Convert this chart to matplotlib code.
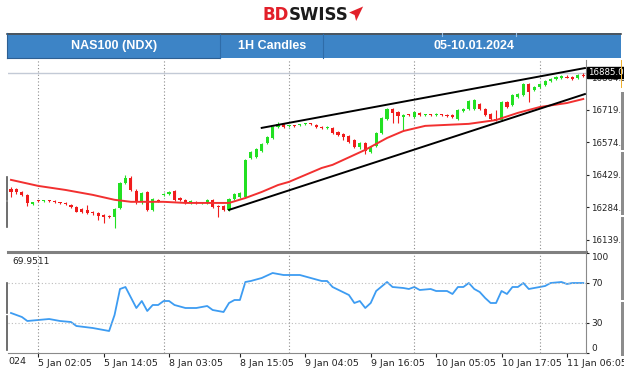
import numpy as np
import matplotlib.pyplot as plt
from matplotlib.patches import Rectangle, Polygon

# NAS100 1H candles, bar index 0..105
opens = [16367, 16367, 16353, 16340, 16300, 16315, 16311, 16315, 16311, 16307,
         16304, 16295, 16286, 16277, 16273, 16264, 16259, 16250, 16246, 16242,
         16282, 16393, 16416, 16358, 16309, 16353, 16273, 16318, 16340, 16344,
         16358, 16326, 16318, 16304, 16309, 16302, 16304, 16318, 16291, 16291,
         16273, 16322, 16331, 16331, 16505, 16509, 16536, 16572, 16594, 16643,
         16657, 16646, 16650, 16650, 16655, 16659, 16652, 16643, 16639, 16639,
         16621, 16612, 16603, 16585, 16554, 16572, 16532, 16558, 16617, 16680,
         16723, 16710, 16688, 16699, 16688, 16706, 16695, 16699, 16697, 16699,
         16697, 16697, 16680, 16715, 16723, 16723, 16746, 16723, 16703, 16680,
         16674, 16755, 16741, 16777, 16786, 16835, 16808, 16822, 16831, 16848,
         16857, 16862, 16868, 16866, 16862, 16875]
highs = [16375, 16372, 16358, 16345, 16310, 16318, 16318, 16318, 16315, 16310,
         16308, 16300, 16290, 16282, 16295, 16268, 16262, 16255, 16250, 16282,
         16398, 16429, 16425, 16365, 16355, 16358, 16326, 16322, 16349, 16358,
         16362, 16330, 16322, 16318, 16313, 16310, 16322, 16322, 16295, 16295,
         16326, 16349, 16353, 16500, 16536, 16550, 16572, 16603, 16648, 16666,
         16661, 16654, 16654, 16657, 16661, 16663, 16657, 16648, 16648, 16643,
         16625, 16616, 16607, 16590, 16576, 16576, 16558, 16621, 16688, 16728,
         16728, 16715, 16701, 16703, 16715, 16710, 16703, 16703, 16706, 16703,
         16701, 16701, 16723, 16728, 16764, 16768, 16750, 16728, 16706, 16719,
         16759, 16759, 16790, 16795, 16840, 16840, 16826, 16840, 16853, 16862,
         16871, 16875, 16873, 16870, 16880, 16885]
lows = [16331, 16345, 16335, 16291, 16296, 16306, 16308, 16308, 16302, 16298,
        16294, 16282, 16262, 16260, 16255, 16252, 16228, 16215, 16235, 16192,
        16277, 16388, 16358, 16300, 16300, 16268, 16268, 16306, 16335, 16340,
        16313, 16313, 16300, 16300, 16300, 16298, 16300, 16282, 16242, 16268,
        16268, 16318, 16326, 16326, 16500, 16505, 16532, 16567, 16590, 16639,
        16639, 16641, 16643, 16646, 16650, 16650, 16639, 16634, 16634, 16612,
        16603, 16585, 16572, 16550, 16545, 16523, 16527, 16554, 16612, 16676,
        16661, 16661, 16630, 16690, 16683, 16692, 16690, 16690, 16692, 16690,
        16688, 16683, 16676, 16710, 16719, 16719, 16719, 16692, 16676, 16670,
        16670, 16728, 16737, 16773, 16782, 16755, 16804, 16817, 16826, 16844,
        16853, 16857, 16860, 16853, 16857, 16868]
closes = [16353, 16353, 16340, 16304, 16306, 16311, 16315, 16311, 16306, 16302,
          16298, 16286, 16264, 16264, 16259, 16258, 16246, 16242, 16240, 16277,
          16393, 16416, 16362, 16309, 16349, 16273, 16322, 16313, 16346, 16353,
          16318, 16318, 16304, 16313, 16304, 16306, 16318, 16286, 16286, 16273,
          16322, 16344, 16349, 16496, 16532, 16545, 16567, 16599, 16643, 16657,
          16643, 16650, 16646, 16654, 16659, 16655, 16643, 16639, 16643, 16617,
          16607, 16599, 16576, 16554, 16572, 16536, 16554, 16617, 16683, 16723,
          16706, 16692, 16697, 16695, 16710, 16697, 16699, 16695, 16701, 16695,
          16692, 16688, 16719, 16723, 16759, 16764, 16723, 16697, 16680, 16674,
          16755, 16732, 16786, 16790, 16835, 16799, 16822, 16835, 16848, 16857,
          16866, 16871, 16864, 16857, 16875, 16871]

# moving average (red line), read at selected bars
ma_bars = [0, 5, 10, 15, 19, 22, 28, 32, 36, 40, 43, 46, 49, 51, 57, 59,
           65, 69, 72, 76, 84, 89, 93, 97, 102, 105]
ma_vals = [16407, 16380, 16362, 16340, 16318, 16309, 16309, 16304, 16304, 16304,
           16326, 16353, 16384, 16398, 16460, 16474, 16541, 16594, 16625, 16648,
           16657, 16674, 16706, 16732, 16750, 16768]

# rising wedge trendlines
upper_bars = [46, 105.3]
upper_vals = [16639, 16906]
lower_bars = [40, 105.3]
lower_vals = [16273, 16790]

# RSI
rsi_bars = [0, 2, 3, 5, 7, 9, 11, 12, 15, 18, 19, 20, 21, 23, 24, 25, 26, 27, 28, 29,
            30, 32, 34, 36, 37, 39, 40, 41, 42, 43, 44, 46, 48, 49, 50, 53, 55, 57,
            58, 59, 62, 63, 64, 65, 66, 67, 69, 70, 72, 73, 74, 75, 77, 78, 80, 81,
            82, 83, 84, 85, 86, 87, 88, 89, 90, 91, 92, 93, 94, 95, 96, 98, 99, 101,
            102, 103, 105]
rsi_vals = [40, 36, 32, 33, 34, 32, 31, 27, 25, 22, 38, 64, 66, 45, 52, 42, 48, 48, 52, 52,
            48, 45, 45, 47, 43, 41, 50, 53, 53, 71, 72, 75, 80, 79, 78, 78, 75, 72,
            72, 66, 58, 50, 52, 45, 50, 62, 71, 66, 65, 64, 66, 63, 64, 62, 62, 59,
            66, 66, 70, 64, 61, 55, 50, 50, 62, 59, 66, 66, 70, 64, 65, 67, 70, 71,
            69, 70, 70]
rsi_last = '69.9511'

price_ticks = [16139.3, 16284.3, 16429.3, 16574.3, 16719.3, 16864.3]
last_price = 16885.0
rsi_ticks = [0, 30, 70, 100]

grid_bars = [5, 28, 51, 74, 97]
time_bars = [5, 17, 29, 42, 54, 66, 78, 90, 102]
time_labels = ['5 Jan 02:05', '5 Jan 14:05', '8 Jan 03:05', '8 Jan 15:05', '9 Jan 04:05',
               '9 Jan 16:05', '10 Jan 05:05', '10 Jan 17:05', '11 Jan 06:05']

header_cells = ['NAS100 (NDX)', '1H Candles', '05-10.01.2024']
header_x = [114, 272, 474]

W, H = 624, 369
fig = plt.figure(figsize=(W / 100, H / 100), dpi=100)


def px(x0, y0, x1, y1):
    return [x0 / W, 1 - y1 / H, (x1 - x0) / W, (y1 - y0) / H]


up_col, dn_col = '#22e022', '#f01c1c'
grid_kw = dict(color='#8c8c8c', lw=0.8, ls=(0, (1, 2)))
xlim = (-0.55, 105.5)

# ---- price panel
ax = fig.add_axes(px(8, 60, 586, 252))
o = np.array(opens)
c = np.array(closes)
x = np.arange(len(o))
cols = np.where(c >= o, up_col, dn_col)
ax.vlines(x, lows, highs, colors=cols, lw=0.8, zorder=3)
body = np.maximum(np.abs(c - o), 4.5)
ax.bar(x, body, bottom=(o + c) / 2 - body / 2, width=0.58, color=cols, zorder=3)
ax.plot(ma_bars, ma_vals, color='#f23030', lw=1.4, zorder=4)
ax.plot(upper_bars, upper_vals, color='black', lw=1.4, zorder=5)
ax.plot(lower_bars, lower_vals, color='black', lw=1.4, zorder=5)
ax.axhline(last_price, color='#c3cad6', lw=1.0, zorder=1)
for b in grid_bars:
    ax.axvline(b, zorder=0, **grid_kw)
ax.set_xlim(*xlim)
ax.set_ylim(16085, 16942)
ax.set_xticks([])
ax.yaxis.tick_right()
ax.set_yticks(price_ticks)
ax.set_yticklabels([f'{v:.1f}' for v in price_ticks])
ax.tick_params(axis='y', length=2.5, width=0.8, pad=1.2, labelsize=6.2,
               colors='#222222')
for s in ['left', 'top']:
    ax.spines[s].set_visible(False)
ax.spines['right'].set_color('#8a8a8a')
ax.spines['bottom'].set_color('#808080')
ax.spines['bottom'].set_linewidth(2.2)
ax.annotate(f'{last_price:.1f}', xy=(1.0, last_price), xycoords=('axes fraction', 'data'),
            xytext=(1.5, 0), textcoords='offset points', va='center', ha='left',
            fontsize=6.2, color='white', annotation_clip=False, zorder=10,
            bbox=dict(boxstyle='square,pad=0.12', fc='black', ec='black'))

# ---- RSI panel
ar = fig.add_axes(px(8, 253, 586, 353))
ar.patch.set_alpha(0)
ar.plot(rsi_bars, rsi_vals, color='#3d9cf2', lw=1.3)
for lv in [30, 70]:
    ar.axhline(lv, color='#bdbdbd', lw=0.8, ls=(0, (1, 2)))
for b in grid_bars:
    ar.axvline(b, **grid_kw)
ar.set_xlim(*xlim)
ar.set_ylim(0, 100)
ar.yaxis.tick_right()
ar.set_yticks(rsi_ticks)
lbls = ar.set_yticklabels([str(v) for v in rsi_ticks])
lbls[0].set_va('bottom')
lbls[-1].set_va('top')
ar.tick_params(axis='y', length=2.5, width=0.8, pad=1.5, labelsize=6.5, colors='#222222')
ar.set_xticks(time_bars)
xl = ar.set_xticklabels(time_labels)
for t in xl:
    t.set_ha('left')
ar.tick_params(axis='x', length=3, width=0.8, pad=1.5, labelsize=6.8, colors='#222222')
for s in ['left', 'top']:
    ar.spines[s].set_visible(False)
ar.spines['right'].set_color('#8a8a8a')
ar.spines['bottom'].set_color('#8a8a8a')

# ---- decorations (pixel coords)
deco = fig.add_axes([0, 0, 1, 1])
deco.set_xlim(0, W)
deco.set_ylim(H, 0)
deco.axis('off')
deco.set_zorder(10)

deco.add_patch(Rectangle((7, 33), 614, 25, fc='#3d84c6', ec='none'))
deco.plot([7, 621], [33.5, 33.5], color='#4d4d4d', lw=1.2)
deco.plot([7, 220], [58, 58], color='#2d5f92', lw=0.8)
for xd in [220, 322.5]:
    deco.plot([xd, xd], [34, 58], color='#2f6ca8', lw=0.8)
for xd in [442, 516]:
    deco.plot([xd, xd], [33, 36], color='#9bbfe3', lw=0.8)
deco.plot([7, 7], [33, 58], color='#2d5f92', lw=0.8)
for txt, xc in zip(header_cells, header_x):
    deco.text(xc, 46, txt, ha='center', va='center', color='white', fontsize=9,
              fontweight='bold', family='Liberation Sans')

t1 = deco.text(262, 20.5, 'BD', color='#e2202a', fontsize=12, fontweight='bold',
               family='DejaVu Sans', va='baseline')
fig.canvas.draw()
x_bd = t1.get_window_extent().x1
t2 = deco.text(x_bd, 20.5, 'SWISS', color='#1b1b1b', fontsize=12, fontweight='bold',
               family='DejaVu Sans', va='baseline')
fig.canvas.draw()
x_sw = t2.get_window_extent().x1 + 1
deco.add_patch(Polygon([(x_sw, 12.5), (x_sw + 14, 6.5), (x_sw + 7, 21), (x_sw + 5.5, 15)],
                       closed=True, fc='#e2202a', ec='none'))

deco.text(12, 261, rsi_last, fontsize=6.5, color='#222222', va='center')
deco.text(8, 361, '024', fontsize=6.8, color='#222222', va='center')

# window borders
for y0, y1 in [(177, 199.5), (201.5, 227), (283, 313), (316, 350)]:
    deco.plot([6.8, 6.8], [y0, y1], color='#555555', lw=1.2)
deco.add_patch(Rectangle((620.5, 60), 1.8, 28, fc='#f0b030', ec='none'))
for y0, y1 in [(92, 150), (152, 215), (217, 300), (302, 356)]:
    deco.add_patch(Rectangle((621, y0), 3, y1 - y0, fc='#8c8c8c', ec='none'))

fig.savefig('out.png', dpi=100)
